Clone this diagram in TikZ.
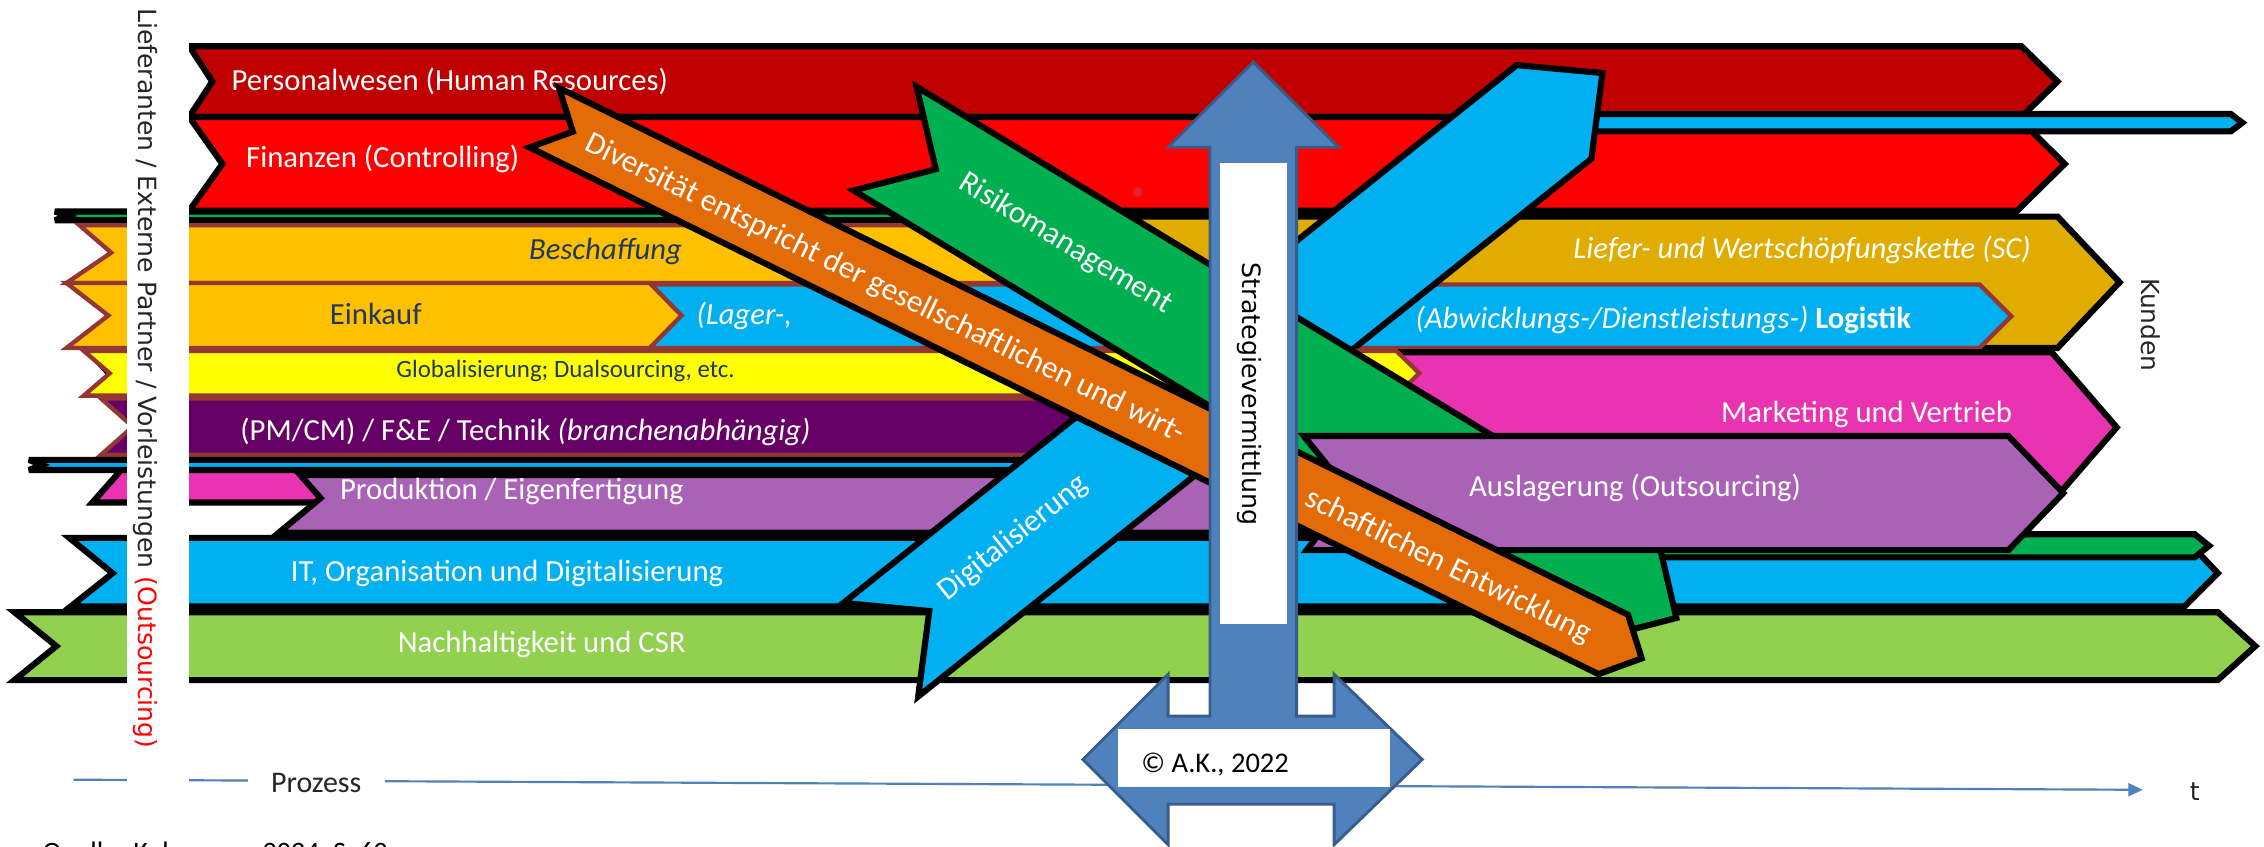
\documentclass[tikz,border=0pt]{standalone}
\usepackage{fontspec}
\setmainfont{Carlito}
\newfontfamily\dvs{DejaVu Sans}
\usetikzlibrary{arrows.meta}
\definecolor{dred}{HTML}{C00000}
\definecolor{pred}{HTML}{FF0000}
\definecolor{gold}{HTML}{FFC000}
\definecolor{scgold}{HTML}{E0AC00}
\definecolor{cyanb}{HTML}{00B0F0}
\definecolor{yel}{HTML}{FFFF00}
\definecolor{dpur}{HTML}{660066}
\definecolor{mkpink}{HTML}{EA33B0}
\definecolor{lpur}{HTML}{A962B6}
\definecolor{lgreen}{HTML}{92D050}
\definecolor{mgreen}{HTML}{00B050}
\definecolor{orng}{HTML}{E36C09}
\definecolor{sblue}{HTML}{4F81BD}
\definecolor{sbluedk}{HTML}{385D8A}
\definecolor{brn}{HTML}{943634}
\definecolor{txtnavy}{HTML}{1F3864}
\definecolor{dotred}{HTML}{E0202C}
\begin{document}
\begin{tikzpicture}[x=0.4pt,y=-0.4pt,
  band/.style={draw=black,line width=1.7pt,line join=miter,miter limit=4},
  bband/.style={draw=brn,line width=1.2pt,line join=miter,miter limit=4},
  lbl/.style={font=\fontsize{8.5}{10}\selectfont,text=white,inner sep=0pt,text height=1.3ex,text depth=0pt},
  dlbl/.style={font=\fontsize{8.7}{10}\selectfont,text=white,inner sep=0pt,text height=1.3ex,text depth=0pt},
  vlbl/.style={rotate=-90,inner sep=0pt,text height=1.3ex,text depth=0pt}]
\useasboundingbox (0,0) rectangle (1568,586);
\clip (0,0) rectangle (1568,586);
% ---------------- horizontal bands
\path[band,fill=dred] (131,32) -- (1400,32) -- (1425,56.5) -- (1400,81) -- (131,81) -- (147,56.5) -- cycle;
\path[band,fill=pred] (131,81) -- (1397,81) -- (1430,113.5) -- (1397,146) -- (131,146) -- (154,113.5) -- cycle;
\path[band,fill=cyanb] (1040,79) -- (1545,79) -- (1553,85) -- (1545,91) -- (1040,91) -- cycle;
\fill[dotred] (788,133) circle[radius=3.5];
\path[band,fill=mgreen] (38,146.5) -- (700,146.5) -- (700,152.5) -- (38,152.5) -- (47,149.5) -- cycle;
\path[band,fill=scgold] (700,150) -- (1425,150) -- (1468,195.5) -- (1425,241) -- (700,241) -- cycle;
\path[bband,fill=gold] (55,156) -- (760,156) -- (800,176) -- (760,196) -- (46,196) -- (77,175) -- cycle;
\path[bband,fill=cyanb] (440,197) -- (1371,197) -- (1393,219) -- (1371,241) -- (440,241) -- cycle;
\path[bband,fill=gold] (46,196) -- (450,196) -- (472,218.5) -- (450,241) -- (46,241) -- (75,218.5) -- cycle;
\path[band,fill=mkpink] (62,244) -- (1421,244) -- (1466,296) -- (1421,348) -- (64,348) -- (110,296) -- cycle;
\path[bband,fill=dpur] (70,276) -- (800,276) -- (800,315) -- (70,315) -- (92,295.5) -- cycle;
\path[band,fill=cyanb] (20,318.5) -- (708,318.5) -- (716,322) -- (708,325.5) -- (20,325.5) -- (29,322) -- cycle;
\path[band,fill=lpur] (208,329) -- (1000,329) -- (1000,369) -- (193,369) -- (222,345) -- cycle;
\path[band,fill=cyanb] (48,372.5) -- (1513,372.5) -- (1536,397) -- (1513,420) -- (49,420) -- (78,397) -- cycle;
\path[band,fill=mgreen] (950,370) -- (1520,370) -- (1530,378) -- (1520,386) -- (950,386) -- cycle;
\path[band,fill=lgreen] (10,424) -- (1536,424) -- (1562,447.5) -- (1536,471) -- (10,471) -- (39,447.5) -- cycle;
% ---------------- band labels
\node[lbl,anchor=west] (lPers) at (160,55) {Personalwesen (Human Resources)};
\node[lbl,anchor=west] (lFin) at (170,108) {Finanzen (Controlling)};
\node[lbl,anchor=west,text=txtnavy] (lBesch) at (366,172) {\itshape Beschaffung};
\node[lbl,anchor=west,text=txtnavy] (lEink) at (228,217) {Einkauf};
\node[lbl,anchor=west] (lLager) at (482,217) {\itshape (Lager-,};
\node[lbl,anchor=east] (lLog) at (1324,220) {\itshape (Abwicklungs-/Dienstleistungs-) \upshape\bfseries Logistik};
\node[lbl,anchor=east] (lSC) at (1407,171) {\itshape Liefer- und Wertschöpfungskette (SC)};
\node[lbl,anchor=east] (lMark) at (1394,285) {Marketing und Vertrieb};
\node[lbl,anchor=west] (lPM) at (166,297) {(PM/CM) / F\&E / Technik \textit{(branchenabhängig)}};
\node[lbl,anchor=west] (lProd) at (235,338) {Produktion / Eigenfertigung};
\node[lbl,anchor=west] (lIT) at (201,395) {IT, Organisation und Digitalisierung};
\node[lbl,anchor=west] (lNach) at (275,444) {Nachhaltigkeit und CSR};
% ---------------- cyan diagonal
\path[band,fill=cyanb] (584.1,417.6) -- (1050.4,45.1) -- (1109.8,50.6) -- (1102.2,109.9) -- (635.9,482.4) -- (643.6,423.2) -- cycle;
\node[dlbl,rotate=38.6] (tDig) at (700.5,371) {Digitalisierung};
% ---------------- yellow band (above cyan)
\path[bband,fill=yel] (58,243) -- (967,243) -- (983,258.5) -- (967,274) -- (58,274) -- (76,258.5) -- cycle;
\node[inner sep=0pt,text height=1.3ex,text depth=0pt,font=\fontsize{6.9}{8}\selectfont,text=txtnavy,anchor=west] (lGlob) at (274,254) {Globalisierung; Dualsourcing, etc.};
% ---------------- green diagonal
\path[band,fill=mgreen] (591.2,131.9) -- (648.1,117.2) -- (634.8,60.1) -- (1147.7,370.9) -- (1161,428) -- (1104.1,442.7) -- cycle;
\node[dlbl,rotate=-31.2] (tRisk) at (739,167) {Risikomanagement};
% ---------------- Auslagerung
\path[band,fill=lpur] (903,302) -- (1391,302) -- (1429,341.5) -- (1391,381) -- (905,381) -- (935,341.5) -- cycle;
\node[lbl,anchor=west] (lAus) at (1017,336) {Auslagerung (Outsourcing)};
% ---------------- orange diagonal
\path[band,fill=orng] (366.8,102.1) -- (396.7,91.2) -- (387.2,60.9) -- (1127.5,425.7) -- (1137,456) -- (1107.1,466.9) -- cycle;
\node[dlbl,rotate=-26.2] (tDiv1) at (613.8,198.2) {Diversität entspricht der gesellschaftlichen und wirt-};
\node[dlbl,rotate=-26.2] (tDiv2) at (1004,390.5) {schaftlichen Entwicklung};
% ---------------- process axis
\coordinate (pS) at (51,540);
\coordinate (pE) at (1484,547);
\draw[sblue,line width=0.6pt,-{Triangle[length=4pt,width=3.6pt]}] (pS) -- (pE);
\node[fill=white,inner xsep=6.5pt,inner ysep=1pt,text height=1.3ex,text depth=0pt,font=\fontsize{8.3}{10}\selectfont,text=black!85] (tProz) at (219,541) {Prozess};
\node[inner sep=0pt,font=\dvs\fontsize{7}{8}\selectfont,text=black!85] (tT) at (1520,548) {t};
% ---------------- left white strip
\fill[white] (88,0) rectangle (131,560);
\node[vlbl,font=\dvs\fontsize{6.95}{8}\selectfont,text=black!85] (tLief) at (103.5,262) {Lieferanten / Externe Partner / Vorleistungen \textcolor{red}{(Outsourcing)}};
\node[vlbl,font=\dvs\fontsize{6.9}{8}\selectfont,text=black!85] (tKund) at (1491,225) {Kunden};
% ---------------- strategy arrow
\path[draw=sbluedk,line width=0.8pt,fill=sblue,line join=miter] (868,43) -- (927,102) -- (898,102) -- (898,496) -- (924,496) -- (924,467) -- (985,526) -- (924,585) -- (924,557) -- (809,557) -- (809,585) -- (750,526) -- (809,467) -- (809,496) -- (838,496) -- (838,102) -- (809,102) -- cycle;
\fill[white] (845,113) rectangle (891,432);
\fill[white] (774,505) rectangle (963,545);
\node[vlbl,font=\dvs\fontsize{7}{8}\selectfont,text=black] (tStrat) at (868,273) {Strategievermittlung};
\node[anchor=west,inner sep=0pt,text height=1.3ex,text depth=0pt,font=\fontsize{7.9}{9}\selectfont] (tCopy) at (790,527) {© A.K., 2022};
% ---------------- source line (cut by the page edge, as in the reference)
\node[anchor=base west,inner sep=0pt,font=\fontsize{7.8}{9}\selectfont] (tQuelle) at (29,597) {Quelle: Kuhn u. a., 2024, S. 60};
\end{tikzpicture}
\end{document}
